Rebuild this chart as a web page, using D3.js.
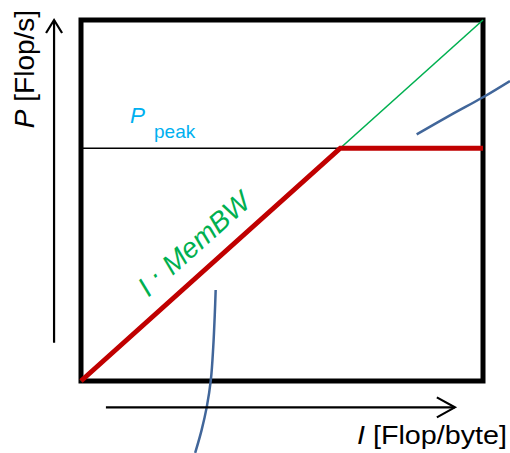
<!DOCTYPE html>
<html>
<head>
<meta charset="utf-8">
<script src="https://cdn.jsdelivr.net/npm/d3@7"></script>
<style>
  html, body { margin: 0; padding: 0; background: #fff; }
  svg { display: block; font-family: "Liberation Sans", Arial, sans-serif; }
</style>
</head>
<body>
<svg id="chart" width="510" height="453"></svg>
<script>
// ---- data (normalised units: I and P in [0,1]) ----
const xDomain = [0, 1];
const yDomain = [0, 1];
const pPeak = 0.645;               // peak performance level
const ridgeI = 0.645;              // ridge point intensity
// roofline (min(Ppeak, I*MemBW))
const roofI = [0, ridgeI, 1];
const roofP = [0, pPeak, pPeak];
// memory bandwidth line I*MemBW
const bwI = [0, 1];
const bwP = [0, 1];
// Ppeak horizontal line (thin, up to the ridge)
const peakI = [0, ridgeI];
const peakP = [pPeak, pPeak];
// pointer curves (callouts)
const ptr1I = [0.835, 0.92, 1.0, 1.067];
const ptr1P = [0.683, 0.737, 0.786, 0.831];
const ptr2I = [0.335, 0.333, 0.329, 0.323, 0.313, 0.300, 0.284];
const ptr2P = [0.252, 0.190, 0.095, 0.003, -0.071, -0.136, -0.199];
// axis arrows
const yArrowI = [-0.067, -0.067];
const yArrowP = [0.106, 1.0];
const xArrowI = [0.062, 0.930];
const xArrowP = [-0.073, -0.073];
// labels
const yLabel = ["P", " [Flop/s]"];
const xLabel = ["I", " [Flop/byte]"];
const peakLabel = ["P", "peak"];
const bwLabel = ["I ", "·", " MemBW"];

const svg = d3.select("#chart");
const x = d3.scaleLinear().domain(xDomain).range([81, 483]);
const y = d3.scaleLinear().domain(yDomain).range([381, 20]);
const line = d3.line().x(d => x(d[0])).y(d => y(d[1]));
const zip = (a, b) => a.map((v, i) => [v, b[i]]);

// frame
svg.append("rect")
  .attr("x", x(0)).attr("y", y(1))
  .attr("width", x(1) - x(0)).attr("height", y(0) - y(1))
  .attr("fill", "none").attr("stroke", "#000").attr("stroke-width", 5)
  .attr("stroke-linejoin", "miter");

// thin Ppeak line
svg.append("path").attr("d", line(zip(peakI, peakP)))
  .attr("fill", "none").attr("stroke", "#000").attr("stroke-width", 1.5);

// bandwidth line
svg.append("path").attr("d", line(zip(bwI, bwP)))
  .attr("fill", "none").attr("stroke", "#00B050").attr("stroke-width", 1.6);

// roofline
svg.append("path").attr("d", line(zip(roofI, roofP)))
  .attr("fill", "none").attr("stroke", "#C00000").attr("stroke-width", 5)
  .attr("stroke-linejoin", "miter");

// pointer curves
const curve = d3.line().x(d => x(d[0])).y(d => y(d[1])).curve(d3.curveCatmullRom);
[[ptr1I, ptr1P], [ptr2I, ptr2P]].forEach(([a, b]) => {
  svg.append("path").attr("d", curve(zip(a, b)))
    .attr("fill", "none").attr("stroke", "#41669A").attr("stroke-width", 2.5);
});

// axis arrows
function arrow(I, P, dir) {
  svg.append("path").attr("d", line(zip(I, P)))
    .attr("fill", "none").attr("stroke", "#000").attr("stroke-width", 2.2);
  const tx = x(I[1]), ty = y(P[1]);
  let pts;
  if (dir === "up") pts = [[tx - 8, ty + 13], [tx, ty], [tx + 8, ty + 13]];
  else pts = [[tx - 18, ty - 10], [tx, ty], [tx - 18, ty + 10]];
  svg.append("path").attr("d", d3.line()(pts))
    .attr("fill", "none").attr("stroke", "#000").attr("stroke-width", 2.2);
}
arrow(yArrowI, yArrowP, "up");
arrow(xArrowI, xArrowP, "right");

// y label
const yl = svg.append("text")
  .attr("transform", `translate(34,69) rotate(-90)`)
  .attr("text-anchor", "middle").attr("font-size", 28).attr("fill", "#000");
yl.append("tspan").attr("font-style", "italic").text(yLabel[0]);
yl.append("tspan").text(yLabel[1]);

// x label
const xl = svg.append("text")
  .attr("x", 357).attr("y", 444)
  .attr("font-size", 26).attr("fill", "#000")
  .attr("textLength", 150).attr("lengthAdjust", "spacingAndGlyphs");
xl.append("tspan").attr("font-style", "italic").text(xLabel[0]);
xl.append("tspan").text(xLabel[1]);

// Ppeak label
svg.append("text").attr("x", 130).attr("y", y(pPeak) - 25)
  .attr("font-size", 22.5).attr("font-style", "italic").attr("fill", "#00B0F0")
  .text(peakLabel[0]);
svg.append("text").attr("x", 154).attr("y", y(pPeak) - 10.5)
  .attr("font-size", 19).attr("fill", "#00B0F0")
  .text(peakLabel[1]);

// bandwidth label
const angle = -Math.atan((y(0) - y(1)) / (x(1) - x(0))) * 180 / Math.PI;
const bw = svg.append("text")
  .attr("transform", `translate(${x(0.325)},${y(0.325)}) rotate(${angle}) translate(0,-17)`)
  .attr("text-anchor", "middle")
  .attr("font-size", 28).attr("font-style", "italic").attr("fill", "#00B050");
bw.append("tspan").text(bwLabel[0]);
bw.append("tspan").attr("dy", -4).text(bwLabel[1]);
bw.append("tspan").attr("dy", 4).text(bwLabel[2]);
</script>
</body>
</html>
